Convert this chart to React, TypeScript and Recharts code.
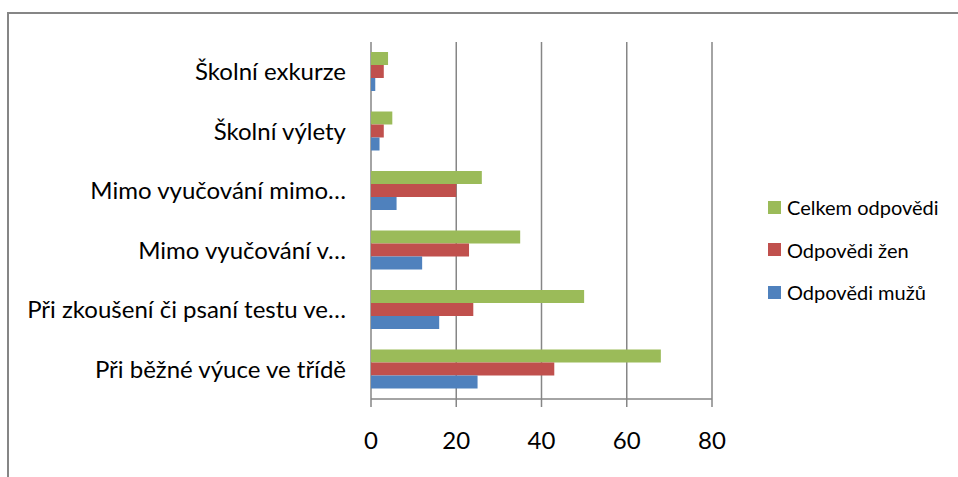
import { Bar, BarChart, CartesianGrid, XAxis, YAxis } from "recharts";

const categories = [
  "Školní exkurze",
  "Školní výlety",
  "Mimo vyučování mimo…",
  "Mimo vyučování v…",
  "Při zkoušení či psaní testu ve…",
  "Při běžné výuce ve třídě",
];
const celkem = [4, 5, 26, 35, 50, 68];
const zeny = [3, 3, 20, 23, 24, 43];
const muzi = [1, 2, 6, 12, 16, 25];
const xTicks = [0, 20, 40, 60, 80];

const series = [
  { key: "celkem", name: "Celkem odpovědi", color: "#9BBB59" },
  { key: "zeny", name: "Odpovědi žen", color: "#C0504D" },
  { key: "muzi", name: "Odpovědi mužů", color: "#4F81BD" },
];

const data = categories.map((name, i) => ({
  name,
  celkem: celkem[i],
  zeny: zeny[i],
  muzi: muzi[i],
}));

const FONT = "Lato, 'Open Sans', sans-serif";
const AXIS = "#868686";

export default function App() {
  return (
    <div
      style={{
        position: "absolute",
        left: 0,
        top: 0,
        width: 958,
        height: 477,
        overflow: "hidden",
        background: "#fff",
        fontFamily: FONT,
      }}
    >
      {/* outer chart frame */}
      <div
        style={{
          position: "absolute",
          left: 7,
          top: 12,
          width: 1100,
          height: 600,
          borderTop: `2px solid ${AXIS}`,
          borderLeft: `2px solid ${AXIS}`,
        }}
      />
      <BarChart
        width={958}
        height={477}
        data={data}
        layout="vertical"
        margin={{ top: 42, right: 246, bottom: 38, left: 8 }}
        barSize={13}
        barGap={0}
        style={{ position: "absolute", left: 0, top: 0 }}
      >
        <CartesianGrid
          horizontal={false}
          stroke={AXIS}
          strokeWidth={1.5}
          verticalValues={xTicks}
        />
        <XAxis
          type="number"
          domain={[0, 80]}
          ticks={xTicks}
          height={40}
          axisLine={{ stroke: AXIS, strokeWidth: 1.5 }}
          tickLine={{ stroke: AXIS, strokeWidth: 1.5 }}
          tickSize={8}
          tickMargin={25}
          tick={{ fill: "#000", fontSize: 24, fontFamily: FONT }}
        />
        {/* boundary tick marks between categories */}
        <YAxis
          yAxisId="bounds"
          type="number"
          domain={[0, 6]}
          ticks={[0, 1, 2, 3, 4, 5, 6]}
          width={0}
          axisLine={{ stroke: AXIS, strokeWidth: 1.5 }}
          tickLine={{ stroke: AXIS, strokeWidth: 1.5 }}
          tickSize={9}
          tick={false}
        />
        <YAxis
          type="category"
          dataKey="name"
          width={363}
          axisLine={false}
          tickLine={false}
          tickMargin={19}
          tick={{ fill: "#000", fontSize: 24, fontFamily: FONT }}
          interval={0}
        />
        {series.map((s) => (
          <Bar
            key={s.key}
            dataKey={s.key}
            name={s.name}
            fill={s.color}
            isAnimationActive={false}
          />
        ))}
      </BarChart>
      <div
        style={{
          position: "absolute",
          left: 768,
          top: 186,
          fontSize: 20,
          color: "#000",
        }}
      >
        {series.map((s) => (
          <div
            key={s.key}
            style={{ display: "flex", alignItems: "center", height: 42.5 }}
          >
            <span
              style={{
                width: 13,
                height: 13,
                background: s.color,
                marginRight: 6,
                display: "inline-block",
              }}
            />
            <span>{s.name}</span>
          </div>
        ))}
      </div>
    </div>
  );
}
